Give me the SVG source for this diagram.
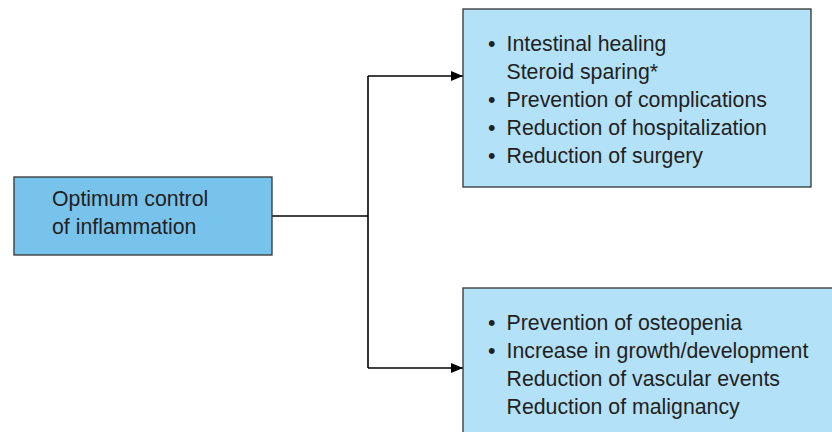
<svg xmlns="http://www.w3.org/2000/svg" width="832" height="432" viewBox="0 0 832 432">
<style>
.box{stroke:#333;stroke-width:1.3}
.t{font-family:"Liberation Sans",Arial,sans-serif;font-size:21.3px;fill:#231f20}
.c{fill:none;stroke:#000;stroke-width:1.6}
</style>
<defs>
<marker id="ah" markerWidth="12" markerHeight="10" refX="12" refY="5" orient="auto" markerUnits="userSpaceOnUse">
<path d="M0,0 L12,5 L0,10 Z" fill="#000"/>
</marker>
</defs>
<rect width="832" height="432" fill="#fff"/>
<g id="connectors">
<path class="c" d="M272,216 H368"/>
<path class="c" d="M368,76 V368"/>
<path class="c" d="M368,76 H463" marker-end="url(#ah)"/>
<path class="c" d="M368,368 H463" marker-end="url(#ah)"/>
</g>
<g id="node-control">
<rect class="box" x="14" y="177" width="258" height="78" fill="#78c3ec"/>
<text class="t" x="52" y="206">Optimum control</text>
<text class="t" x="52" y="234">of inflammation</text>
</g>
<g id="node-outcomes">
<rect class="box" x="463" y="9" width="348" height="178" fill="#b3e1f8"/>
<text class="t" x="488" y="51">•</text>
<text class="t" x="506.5" y="51">Intestinal healing</text>
<text class="t" x="506.5" y="79">Steroid sparing*</text>
<text class="t" x="488" y="107">•</text>
<text class="t" x="506.5" y="107">Prevention of complications</text>
<text class="t" x="488" y="135">•</text>
<text class="t" x="506.5" y="135">Reduction of hospitalization</text>
<text class="t" x="488" y="163">•</text>
<text class="t" x="506.5" y="163">Reduction of surgery</text>
</g>
<g id="node-longterm">
<rect class="box" x="463" y="288" width="380" height="160" fill="#b3e1f8"/>
<text class="t" x="488" y="330">•</text>
<text class="t" x="506.5" y="330">Prevention of osteopenia</text>
<text class="t" x="488" y="358">•</text>
<text class="t" x="506.5" y="358">Increase in growth/development</text>
<text class="t" x="506.5" y="386">Reduction of vascular events</text>
<text class="t" x="506.5" y="414">Reduction of malignancy</text>
</g>
</svg>
